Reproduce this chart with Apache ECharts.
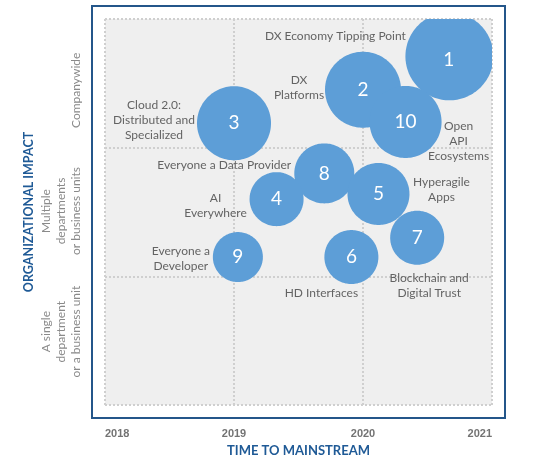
<!DOCTYPE html>
<html>
<head>
<meta charset="UTF-8">
<title>Time to mainstream</title>
<script src="https://cdn.jsdelivr.net/npm/echarts@6/dist/echarts.min.js"></script>
<style>
    body { margin: 0; padding: 0; background: #ffffff; }
    #app { width: 540px; height: 462px; }
</style>
</head>
<body>
<div id="app"></div>
<script>
    // bubble data
    const bubbleIds = ['1', '2', '10', '3', '8', '4', '5', '7', '6', '9'];
    const trendNames = [
        'DX Economy Tipping Point',
        'DX\nPlatforms',
        'Open\nAPI\nEcosystems',
        'Cloud 2.0:\nDistributed and\nSpecialized',
        'Everyone a Data Provider',
        'AI\nEverywhere',
        'Hyperagile\nApps',
        'Blockchain and\nDigital Trust',
        'HD Interfaces',
        'Everyone a\nDeveloper'
    ];
    const yearToMainstream = [2020.67, 2020.0, 2020.33, 2019.0, 2019.7, 2019.33, 2020.12, 2020.42, 2019.91, 2019.03];
    const impactScore = [2.71, 2.45, 2.2, 2.19, 1.8, 1.6, 1.64, 1.3, 1.15, 1.15];
    const bubbleWeight = [8.8, 7.6, 7.2, 7.4, 6.0, 5.4, 6.2, 5.4, 5.4, 5.0];

    const yearLabels = [2018, 2019, 2020, 2021];
    // bottom to top
    const impactLabels = [
        'A single\ndepartment\nor a business unit',
        'Multiple\ndepartments\nor business units',
        'Companywide'
    ];

    // where each name sits next to its bubble (px)
    const nameOffsets = [[-114, -20], [-64, -2], [53, 19], [-80, -3], [-100, -8], [-61, 6], [63, -4], [12, 48], [-30, 36], [-57, 2]];

    const dotted = { color: '#cfcfcf', width: 2, type: [2, 2] };
    const bubbleColor = '#5d9ed7';

    const points = bubbleIds.map((id, i) => [yearToMainstream[i], impactScore[i], bubbleWeight[i]]);
    const namePoints = points.map((p, i) => ({
        value: p,
        label: { formatter: trendNames[i], offset: nameOffsets[i] }
    }));

    function renderBubble(params, api) {
        const c = api.coord([api.value(0), api.value(1)]);
        const r = api.value(2) * 5;
        const cs = params.coordSys;
        // circle outline, cut at the plot edge
        const pts = [];
        for (let k = 0; k < 144; k++) {
            const a = k / 144 * Math.PI * 2;
            let px = c[0] + r * Math.cos(a);
            let py = c[1] + r * Math.sin(a);
            px = Math.min(Math.max(px, cs.x), cs.x + cs.width);
            py = Math.min(Math.max(py, cs.y), cs.y + cs.height);
            pts.push([px, py]);
        }
        return {
            type: 'polygon',
            shape: { points: pts },
            style: { fill: bubbleColor },
            z2: 1,
            textContent: {
                z2: 20,
                style: {
                    text: bubbleIds[params.dataIndex],
                    fill: '#ffffff',
                    fontSize: 19,
                    fontFamily: 'Lato'
                }
            },
            textConfig: { position: 'inside' }
        };
    }

    const chart = echarts.init(document.getElementById('app'));
    chart.setOption({
        animation: false,
        graphic: [{
            type: 'rect',
            shape: { x: 92, y: 6, width: 413, height: 412 },
            style: { fill: 'none', stroke: '#24568a', lineWidth: 2 },
            z: 0
        }],
        grid: [
            { left: 105, right: 48, top: 19, bottom: 56, show: true, backgroundColor: '#efefef', borderWidth: 0 },
            { left: 105, right: 48, top: 30, bottom: 70, show: false }
        ],
        xAxis: [{
            gridIndex: 0,
            type: 'value',
            min: yearLabels[0],
            max: yearLabels[yearLabels.length - 1],
            interval: 1,
            axisLine: { show: false },
            axisTick: { show: false },
            splitLine: { show: true, lineStyle: dotted },
            axisLabel: {
                margin: 23,
                color: '#737373',
                fontWeight: 'bold',
                fontSize: 11,
                fontFamily: 'Liberation Sans',
                alignMinLabel: 'left',
                alignMaxLabel: 'right',
                formatter: v => String(v)
            },
            name: 'TIME TO MAINSTREAM',
            nameLocation: 'middle',
            nameGap: 39,
            nameTextStyle: { color: '#1f5a96', fontWeight: 'bold', fontSize: 13, fontFamily: 'Lato' }
        }, {
            gridIndex: 1,
            type: 'value',
            show: false
        }],
        yAxis: [{
            gridIndex: 0,
            type: 'value',
            min: 0,
            max: 3,
            interval: 1,
            axisLine: { show: false },
            axisTick: { show: false },
            axisLabel: { show: false },
            splitLine: { show: true, lineStyle: dotted },
            name: 'ORGANIZATIONAL IMPACT',
            nameLocation: 'middle',
            nameRotate: 90,
            nameGap: 70,
            nameTextStyle: { color: '#1f5a96', fontWeight: 'bold', fontSize: 12.5, fontFamily: 'Lato' }
        }, {
            gridIndex: 1,
            type: 'category',
            data: impactLabels,
            axisLine: { show: false },
            axisTick: { show: false },
            splitLine: { show: false },
            axisLabel: {
                rotate: 90,
                margin: 21,
                color: '#8a8a8a',
                fontSize: 12,
                lineHeight: 15,
                fontFamily: 'Lato'
            }
        }],
        series: [{
            type: 'custom',
            xAxisIndex: 0,
            yAxisIndex: 0,
            clip: true,
            data: points,
            renderItem: renderBubble,
            z: 2
        }, {
            type: 'scatter',
            xAxisIndex: 0,
            yAxisIndex: 0,
            clip: false,
            data: namePoints,
            symbolSize: 1,
            itemStyle: { color: 'rgba(0,0,0,0)' },
            label: {
                show: true,
                position: 'inside',
                color: '#404040',
                fontSize: 12,
                lineHeight: 15,
                fontFamily: 'Lato'
            },
            z: 3
        }]
    });
</script>
</body>
</html>
